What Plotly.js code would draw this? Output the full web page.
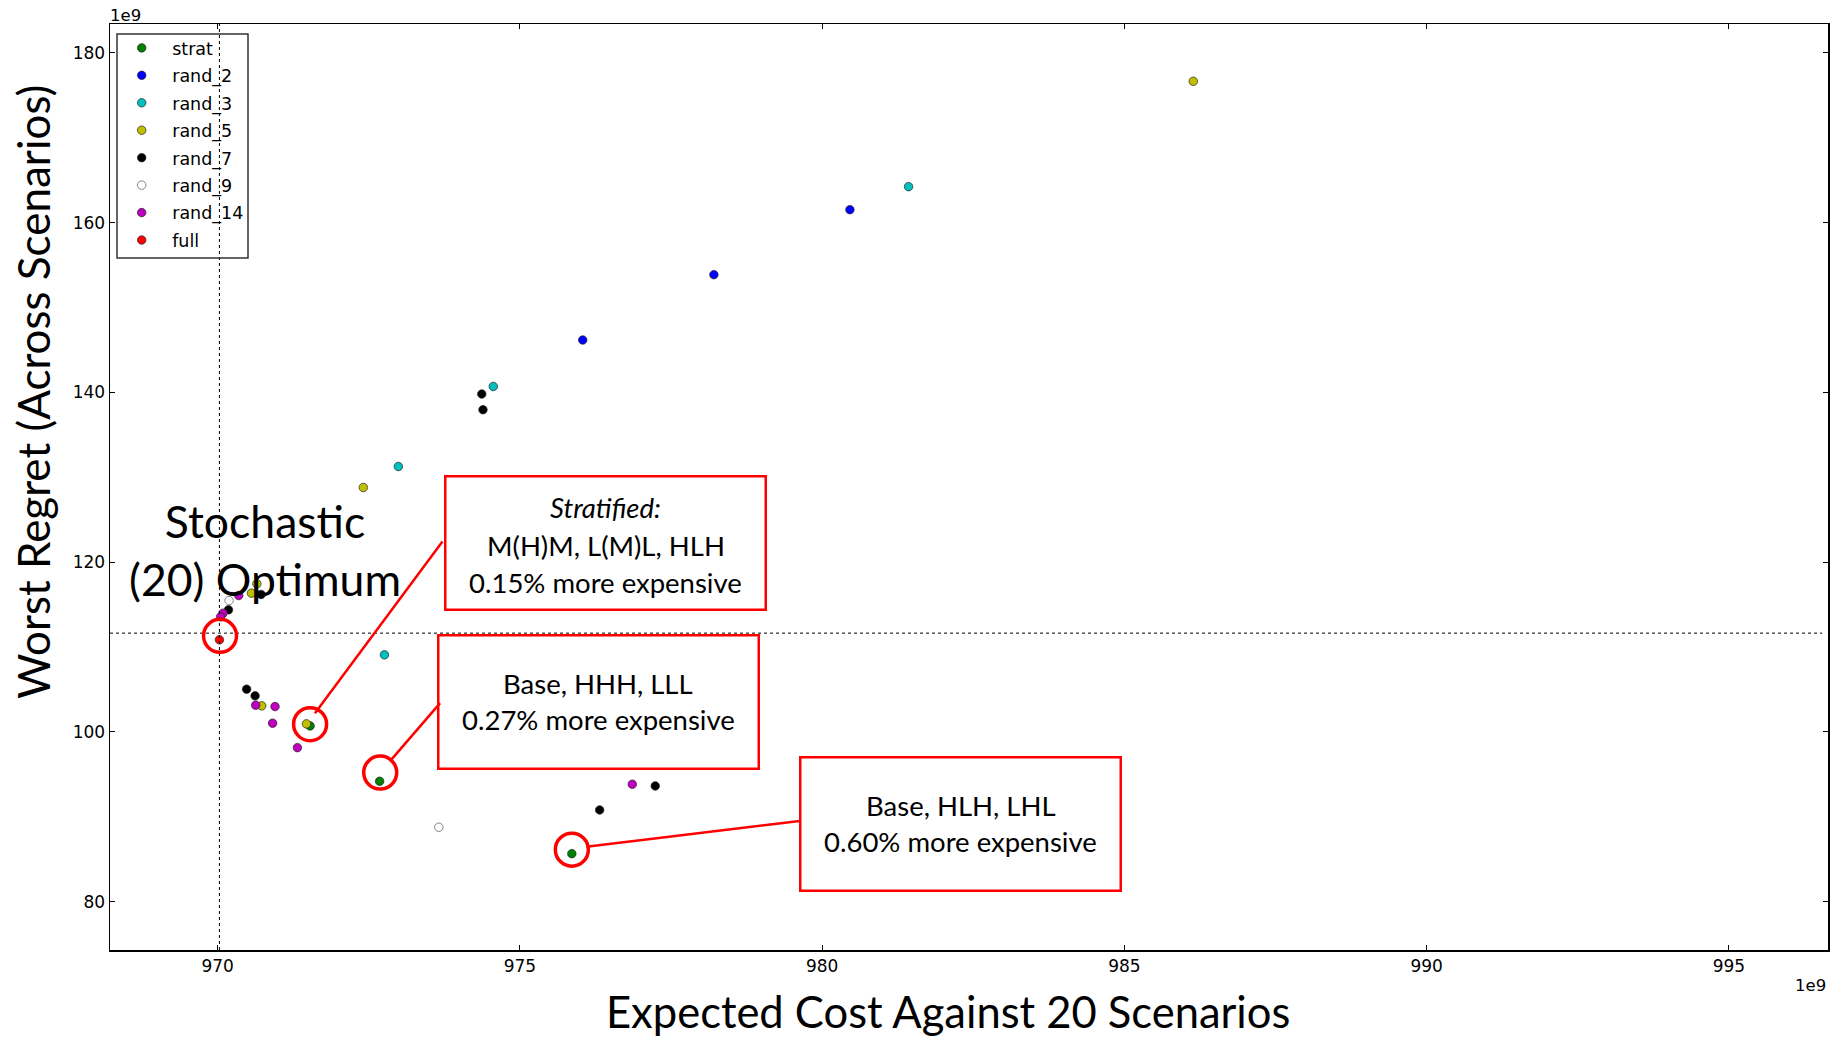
<!DOCTYPE html>
<html>
<head>
<meta charset="utf-8">
<script src="https://cdn.plot.ly/plotly-3.0.1.min.js"></script>
<style>html,body{margin:0;padding:0;background:#fff;}#chart{width:1839px;height:1040px;}</style>
</head>
<body>
<div id="chart"></div>
<script>
// values in units of 1e9
const seriesNames = ["strat","rand_2","rand_3","rand_5","rand_7","rand_9","rand_14","full"];
const strat_x  = [971.53, 972.68, 975.86];
const strat_y  = [100.71, 94.19, 85.66];
const rand2_x  = [976.04, 978.21, 980.46];
const rand2_y  = [146.17, 153.87, 161.53];
const rand3_x  = [981.43, 974.56, 972.99, 972.76];
const rand3_y  = [164.24, 140.70, 131.27, 109.08];
const rand5_x  = [986.14, 972.41, 970.65, 970.56, 970.73, 971.47];
const rand5_y  = [176.65, 128.80, 117.45, 116.35, 103.07, 100.95];
const rand7_x  = [974.37, 974.39, 970.72, 970.18, 970.48, 970.62, 976.32, 977.24];
const rand7_y  = [139.81, 137.96, 116.19, 114.38, 105.04, 104.25, 90.81, 93.64];
const rand9_x  = [970.19, 973.66];
const rand9_y  = [115.48, 88.77];
const rand14_x = [970.35, 970.09, 970.05, 970.63, 970.95, 970.91, 971.32, 976.86];
const rand14_y = [116.07, 113.99, 113.56, 103.15, 102.99, 101.03, 98.15, 93.84];
const full_x   = [970.03];
const full_y   = [110.85];

const refX = 970.03;   // stochastic optimum cost
const refY = 111.64;   // stochastic optimum regret

const xTicks = [970, 975, 980, 985, 990, 995];
const yTicks = [80, 100, 120, 140, 160, 180];

const xTitle = "Expected Cost Against 20 Scenarios";
const yTitle = "Worst Regret (Across Scenarios)";

// callouts: circled points [x, y]
const circled = [[970.04, 111.32], [971.53, 100.91], [972.69, 95.21], [975.86, 86.13]];
// callout boxes: [x, y, lines]
const boxes = [
  [976.42, 122.22, ["<i>Stratified:</i>", "M(H)M, L(M)L, HLH", "0.15% more expensive"]],
  [976.30, 103.57, ["Base, HHH, LLL", "0.27% more expensive"]],
  [982.29, 89.19,  ["Base, HLH, LHL", "0.60% more expensive"]]
];
// leader lines: [x0, y0, x1, y1]
const leaders = [
  [973.72, 122.43, 971.61, 102.21],
  [973.68, 103.39, 972.86, 96.62],
  [976.10, 86.47, 979.63, 89.51]
];

const colors = ["#008000","#0000ff","#00bfbf","#bfbf00","#000000","#ffffff","#bf00bf","#ff0000"];
const xs = [strat_x, rand2_x, rand3_x, rand5_x, rand7_x, rand9_x, rand14_x, full_x];
const ys = [strat_y, rand2_y, rand3_y, rand5_y, rand7_y, rand9_y, rand14_y, full_y];

const tickFont = {family: "DejaVu Sans", size: 17, color: "#000"};
const bigFont = "Lato, 'Open Sans', sans-serif";

const traces = seriesNames.map((n, i) => ({
  type: "scatter", mode: "markers", name: n, x: xs[i], y: ys[i],
  legendgroup: n,
  marker: {color: colors[i], size: 8.5, line: {color: i === 5 ? "#555" : "#222", width: 0.7}}
}));

const shapes = [
  {type: "line", xref: "x", yref: "paper", x0: refX, x1: refX, y0: 0, y1: 1, line: {color: "#000", width: 1, dash: "dot"}},
  {type: "line", xref: "paper", yref: "y", x0: 0, x1: 0.9966, y0: refY, y1: refY, line: {color: "#000", width: 1, dash: "dot"}},
  // legend frame
  {type: "rect", xref: "paper", yref: "paper", x0: 7/1718, x1: 138/1718, y0: 1 - 10/926, y1: 1 - 234/926, line: {color: "#333", width: 1.5}, fillcolor: "rgba(0,0,0,0)"}
];
circled.forEach(c => shapes.push({
  type: "circle", xref: "x", yref: "y", xsizemode: "pixel", ysizemode: "pixel",
  xanchor: c[0], yanchor: c[1], x0: -16.5, x1: 16.5, y0: -16.5, y1: 16.5,
  line: {color: "#ff0000", width: 3.5}
}));
leaders.forEach(l => shapes.push({
  type: "line", xref: "x", yref: "y", x0: l[0], y0: l[1], x1: l[2], y1: l[3],
  line: {color: "#ff0000", width: 2.5}
}));

const annotations = [];
boxes.forEach(b => {
  // frame
  annotations.push({
    xref: "x", yref: "y", x: b[0], y: b[1], text: " ", showarrow: false,
    width: 318, height: 131, borderpad: 0, bordercolor: "#ff0000", borderwidth: 2.5,
    bgcolor: "rgba(255,255,255,0)"
  });
  const n = b[2].length;
  const gap = n === 3 ? 37.5 : 36.5;
  const base = n === 3 ? 2 : 0;
  b[2].forEach((t, k) => {
    const off = (k - (n - 1) / 2) * gap + base;
    annotations.push({
      xref: "x", yref: "y", x: b[0], y: b[1], yshift: -off, text: t, showarrow: false,
      xanchor: "center", yanchor: "middle",
      font: {family: bigFont, size: 27.5, color: "#000"}
    });
  });
});
annotations.push({
  xref: "x", yref: "y", x: 970.78, y: 121.45, text: "Stochastic<br>(20) Optimum", showarrow: false,
  font: {family: bigFont, size: 44.5, color: "#000"}, align: "center"
});
annotations.push({xref: "paper", yref: "paper", x: -2/1718, y: 1 + 8/926, xanchor: "left", yanchor: "middle", text: "1e9", showarrow: false, font: {family: "DejaVu Sans", size: 16.5, color: "#000"}});
annotations.push({xref: "paper", yref: "paper", x: 1, y: -35/926, xanchor: "right", yanchor: "middle", text: "1e9", showarrow: false, font: {family: "DejaVu Sans", size: 16.5, color: "#000"}});
// axis titles
annotations.push({xref: "paper", yref: "paper", x: (947.6 - 110)/1718, y: (950 - 1039)/926, xanchor: "center", yanchor: "bottom",
  text: xTitle, showarrow: false, font: {family: bigFont, size: 43.5, color: "#000"}});
annotations.push({xref: "paper", yref: "paper", x: (33 - 110)/1718, y: (950 - 392)/926, xanchor: "center", yanchor: "middle",
  text: yTitle, textangle: -90, showarrow: false, font: {family: bigFont, size: 44, color: "#000"}});

const layout = {
  width: 1839, height: 1040,
  margin: {l: 110, r: 11, t: 24, b: 90, pad: 0},
  paper_bgcolor: "#fff", plot_bgcolor: "#fff",
  showlegend: true,
  legend: {x: 1.2/1718, y: 1 - 6/926, xanchor: "left", yanchor: "top", bgcolor: "rgba(0,0,0,0)",
           borderwidth: 0, font: {family: "DejaVu Sans", size: 17.5, color: "#000"},
           itemwidth: 51, tracegroupgap: 1.7, traceorder: "grouped"},
  xaxis: {range: [968.22, 996.64], tickvals: xTicks, ticktext: xTicks.map(String),
          showgrid: false, zeroline: false, showline: true, linecolor: "#000", linewidth: 1.5,
          mirror: "ticks", ticks: "inside", ticklen: 5, tickcolor: "#000", tickfont: tickFont},
  yaxis: {range: [74.31, 183.4], tickvals: yTicks, ticktext: yTicks.map(String),
          showgrid: false, zeroline: false, showline: true, linecolor: "#000", linewidth: 1.5,
          mirror: "ticks", ticks: "inside", ticklen: 5, tickcolor: "#000", tickfont: tickFont},
  shapes: shapes, annotations: annotations
};

Plotly.newPlot("chart", traces, layout, {displayModeBar: false, staticPlot: true});
</script>
</body>
</html>
